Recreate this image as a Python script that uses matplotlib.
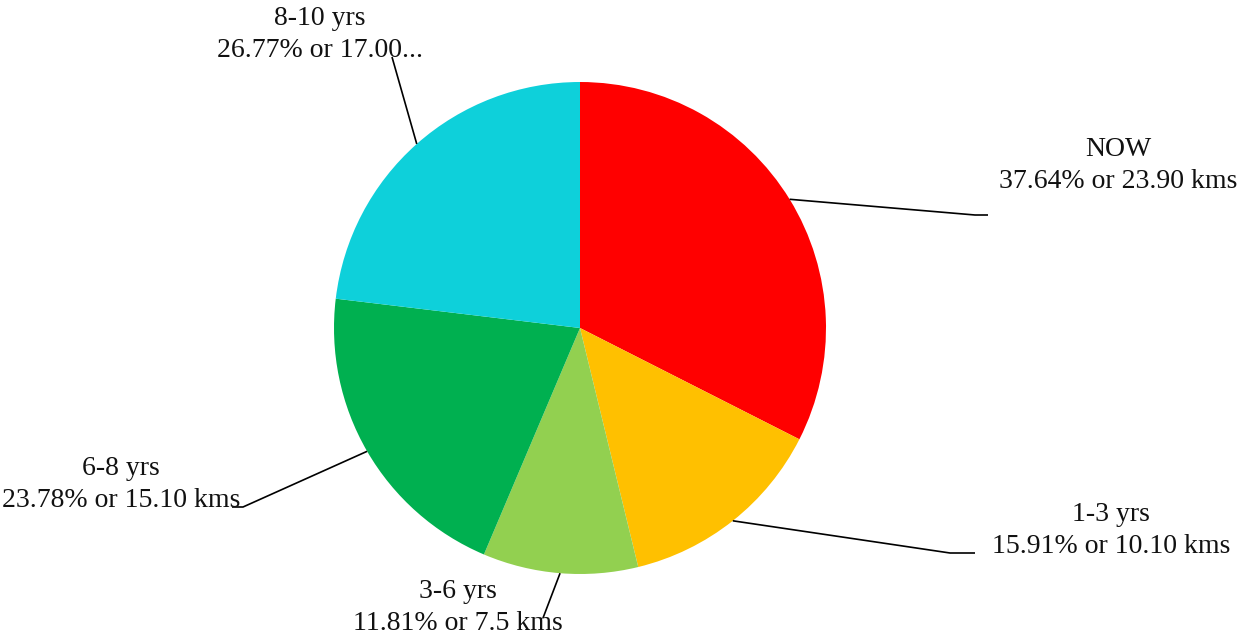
import numpy as np
import matplotlib
matplotlib.use("Agg")
import matplotlib.pyplot as plt

# Distance travelled per age band
categories = ["NOW", "1-3 yrs", "3-6 yrs", "6-8 yrs", "8-10 yrs"]
kms = [23.90, 10.10, 7.5, 15.10, 17.00]
pct_labels = ["37.64% or 23.90 kms", "15.91% or 10.10 kms", "11.81% or 7.5 kms",
              "23.78% or 15.10 kms", "26.77% or 17.00..."]
colors = ["#FF0000", "#FFC000", "#92D050", "#00B050", "#0ED0DA"]

W, H = 1252, 641
fig = plt.figure(figsize=(W / 100, H / 100), dpi=100)
ax = fig.add_axes([0, 0, 1, 1])
ax.set_xlim(0, W)
ax.set_ylim(0, H)
ax.set_aspect("equal")
ax.axis("off")

cx, cy, r = 580, H - 328, 246
wedges, _ = ax.pie(kms, colors=colors, startangle=90, counterclock=False,
                   center=(cx, cy), radius=r, frame=True,
                   wedgeprops=dict(linewidth=0, antialiased=True))
ax.set_xlim(0, W)
ax.set_ylim(0, H)
ax.axis("off")

# label anchor (centre x, last-line baseline y) and leader elbow / end, in pixels from top-left
label_pos = [(1118, 188), (1111, 553), (458, 630), (121, 507), (320, 57)]
elbows = [((975, 215), (988, 215)),
          ((950, 553), (975, 553)),
          ((543, 618), (543, 618)),
          ((243, 507), (232, 507)),
          ((392, 57), (392, 57))]

font = dict(family=["Liberation Serif", "DejaVu Serif"], size=20, color="#111111")

for w, cat, pl, (tx, ty), (elb, end) in zip(wedges, categories, pct_labels, label_pos, elbows):
    mid = np.deg2rad((w.theta1 + w.theta2) / 2)
    sx, sy = cx + r * np.cos(mid), cy + r * np.sin(mid)
    ax.plot([sx, elb[0], end[0]], [sy, H - elb[1], H - end[1]],
            color="black", lw=1.2, solid_capstyle="butt", zorder=3)
    ax.text(tx, H - ty, f"{cat}\n{pl}", ha="center", va="baseline",
            linespacing=1.35, zorder=4, **font)

fig.savefig("out.png", dpi=100)
